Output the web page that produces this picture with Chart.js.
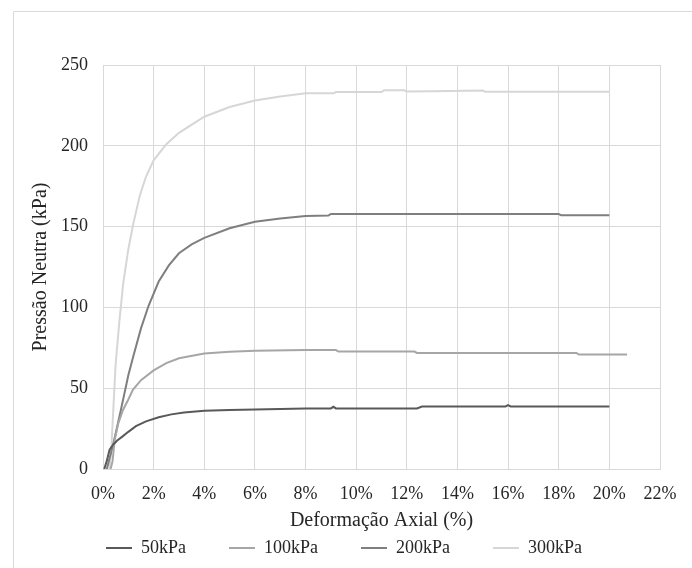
<!DOCTYPE html>
<html>
<head>
<meta charset="utf-8">
<script src="https://cdn.jsdelivr.net/npm/chart.js@4.4.1/dist/chart.umd.min.js"></script>
<style>
  body { margin: 0; background: #fff; }
  canvas { display: block; }
</style>
</head>
<body>
<canvas id="chartCanvas" width="692" height="568"></canvas>
<script>
const seriesNames = ["50kPa", "100kPa", "200kPa", "300kPa"];
const seriesColors = ["#595959", "#a6a6a6", "#7f7f7f", "#d6d6d6"];

// deformação axial (%) / pressão neutra (kPa)
const x50 = [0.05, 0.15, 0.26, 0.4, 0.55, 0.8, 1.0, 1.3, 1.7, 2.2, 2.7, 3.2, 4.0, 5.0, 6.0, 7.0, 8.0, 9.0, 9.1, 9.2, 12.4, 12.6, 15.9, 16.0, 16.1, 20.0];
const y50 = [0, 5, 12, 15, 17.5, 20.5, 23, 26.5, 29.5, 32, 33.8, 35, 36, 36.5, 36.8, 37.2, 37.5, 37.5, 38.5, 37.5, 37.5, 38.7, 38.7, 39.5, 38.7, 38.7];

const x100 = [0.3, 0.38, 0.46, 0.6, 0.79, 1.0, 1.18, 1.5, 2.0, 2.5, 3.0, 4.0, 5.0, 6.0, 8.0, 9.2, 9.3, 12.3, 12.4, 18.7, 18.8, 20.7];
const y100 = [0, 5, 18, 28, 36.5, 43, 49, 55, 61, 65.5, 68.5, 71.5, 72.6, 73.2, 73.6, 73.6, 72.7, 72.7, 71.8, 71.8, 70.8, 70.8];

const x200 = [0.15, 0.4, 0.7, 1.0, 1.2, 1.5, 1.8, 2.2, 2.6, 3.0, 3.5, 4.0, 5.0, 6.0, 7.0, 8.0, 8.9, 9.0, 18.0, 18.1, 20.0];
const y200 = [0, 15, 36, 58, 70, 87, 101, 116, 126, 133.5, 139, 143, 149, 153, 155, 156.5, 156.8, 157.8, 157.8, 157, 157];

const x300 = [0.25, 0.32, 0.4, 0.5, 0.65, 0.8, 1.0, 1.2, 1.45, 1.7, 2.0, 2.5, 3.0, 4.0, 5.0, 6.0, 7.0, 8.0, 9.1, 9.2, 11.0, 11.1, 11.9, 12.0, 13.0, 15.0, 15.1, 20.0];
const y300 = [0, 10, 35, 65, 92, 115, 136, 152, 169, 181, 191, 201, 208, 218, 224, 228, 230.5, 232.5, 232.5, 233.3, 233.3, 234.3, 234.3, 233.6, 233.8, 234.2, 233.4, 233.4];

const xValues = [x50, x100, x200, x300];
const yValues = [y50, y100, y200, y300];

const xTickStep = 2;
const yTickStep = 50;

const serif = "'Liberation Serif', 'Times New Roman', serif";
const textColor = "#262626";
const gridColor = "#d9d9d9";

function toPoints(xs, ys) {
    return xs.map((x, i) => ({ x: x, y: ys[i] }));
}

// moldura cinza da área do gráfico (só esquerda e topo aparecem)
const frame = {
    id: "frame",
    beforeDraw(chart) {
        const ctx = chart.ctx;
        ctx.save();
        ctx.fillStyle = "#fff";
        ctx.fillRect(0, 0, chart.width, chart.height);
        ctx.strokeStyle = gridColor;
        ctx.lineWidth = 1;
        ctx.beginPath();
        ctx.moveTo(13.5, chart.height);
        ctx.lineTo(13.5, 11.5);
        ctx.lineTo(chart.width, 11.5);
        ctx.stroke();
        ctx.restore();
    }
};

// a legenda usa padding grande para o espaçamento horizontal; sobe ela um pouco
const legendShift = {
    id: "legendShift",
    afterLayout(chart) {
        if (!chart.legend) return;
        chart.legend.top -= 10;
        chart.legend.bottom -= 10;
    }
};

const datasets = seriesNames.map((name, i) => ({
    label: name,
    data: toPoints(xValues[i], yValues[i]),
    borderColor: seriesColors[i],
    backgroundColor: seriesColors[i],
    borderWidth: 2,
    pointRadius: 0,
    showLine: true,
    tension: 0,
    fill: false
}));

const ctx = document.getElementById("chartCanvas").getContext("2d");
new Chart(ctx, {
    type: "scatter",
    data: { datasets: datasets },
    plugins: [frame, legendShift],
    options: {
        responsive: false,
        animation: false,
        devicePixelRatio: 1,
        layout: { padding: { left: 28, right: 32, top: 65, bottom: -9 } },
        plugins: {
            tooltip: { enabled: false },
            legend: {
                position: "bottom",
                labels: {
                    boxWidth: 26,
                    boxHeight: 0,
                    padding: 43,
                    color: textColor,
                    font: { family: serif, size: 18 }
                }
            }
        },
        scales: {
            x: {
                type: "linear",
                min: 0,
                max: 22,
                afterFit: scale => { scale.height = 37; },
                ticks: {
                    stepSize: xTickStep,
                    padding: 14,
                    color: textColor,
                    font: { family: serif, size: 18 },
                    callback: v => v + "%"
                },
                grid: { color: gridColor, drawTicks: false },
                border: { color: gridColor },
                title: {
                    display: true,
                    text: "Deformação Axial (%)",
                    color: textColor,
                    font: { family: serif, size: 20 },
                    padding: { top: 0, bottom: -27 }
                }
            },
            y: {
                min: 0,
                max: 250,
                afterFit: scale => { scale.width = 75; },
                ticks: {
                    stepSize: yTickStep,
                    padding: 15,
                    color: textColor,
                    font: { family: serif, size: 18 }
                },
                grid: { color: gridColor, drawTicks: false },
                border: { color: gridColor },
                title: {
                    display: true,
                    text: "Pressão Neutra (kPa)",
                    color: textColor,
                    font: { family: serif, size: 20 },
                    padding: { top: 1, bottom: 0 }
                }
            }
        }
    }
});
</script>
</body>
</html>
